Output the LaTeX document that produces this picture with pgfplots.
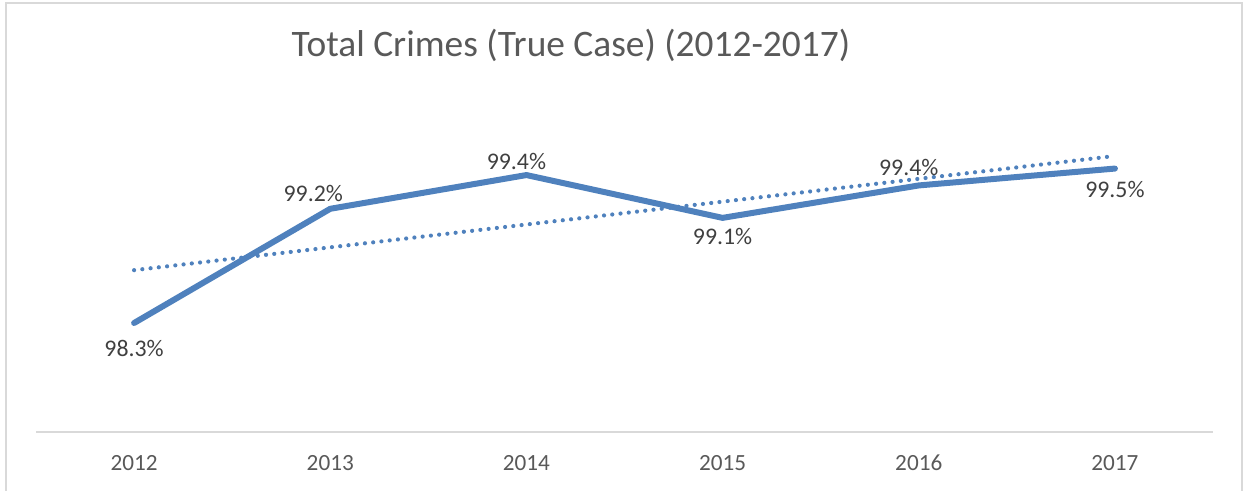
\documentclass[border=0pt]{standalone}
\usepackage{pgfplots}
\pgfplotsset{compat=1.18}
\usepackage{fontspec}
\setmainfont{Carlito}
\definecolor{lineblue}{RGB}{79,129,189}
\definecolor{labelgray}{RGB}{64,64,64}
\definecolor{titlegray}{RGB}{89,89,89}
\definecolor{axisgray}{RGB}{217,217,217}
\pgfplotsset{
  lbl/.style 2 args={draw=none, mark=none, nodes near coords, point meta=explicit symbolic,
    every node near coord/.style={anchor=center, xshift=#1, yshift=#2,
      font=\fontsize{11.9}{13}\selectfont, text=labelgray}},
}
\begin{document}
\begin{tikzpicture}
\begin{axis}[
  scale only axis, width=588.5pt, height=170pt,
  xmin=-0.5, xmax=5.5, ymin=97.46, ymax=100.08,
  axis x line*=bottom, axis y line=none,
  x axis line style={draw=axisgray, line width=0.6pt},
  xtick={0,1,2,3,4,5}, xticklabels={2012,2013,2014,2015,2016,2017},
  ytick=\empty,
  major tick length=0pt,
  xticklabel style={font=\fontsize{11.6}{13}\selectfont, text=titlegray, yshift=-8pt},
  clip=false,
]
\addplot[lineblue, line width=3pt, line join=round, line cap=round]
  coordinates {(0,98.30) (1,99.18) (2,99.44) (3,99.11) (4,99.36) (5,99.49)};
\addplot[lineblue, line width=2.1pt, line cap=round, dash pattern=on 0pt off 4.15pt]
  coordinates {(0,98.707) (5,99.587)};
\addplot[lbl={0pt}{-12.5pt}] coordinates {(0,98.30) [98.3\%]};
\addplot[lbl={-8.5pt}{7.5pt}] coordinates {(1,99.18) [99.2\%]};
\addplot[lbl={-5pt}{7pt}] coordinates {(2,99.44) [99.4\%]};
\addplot[lbl={0pt}{-9.5pt}] coordinates {(3,99.11) [99.1\%]};
\addplot[lbl={-5pt}{9pt}] coordinates {(4,99.36) [99.4\%]};
\addplot[lbl={0pt}{-10.5pt}] coordinates {(5,99.49) [99.5\%]};
\node[font=\fontsize{18.7}{22}\selectfont, text=titlegray] at (rel axis cs:0.4545,1.138) {Total Crimes (True Case) (2012-2017)};
\draw[axisgray, line width=0.6pt] (rel axis cs:-0.02549,-0.4) rectangle (rel axis cs:1.02464,1.26176);
\coordinate (bl) at (rel axis cs:-0.03059,-0.17353);
\coordinate (tr) at (rel axis cs:1.02634,1.27059);
\end{axis}
\pgfresetboundingbox
\path[use as bounding box] (bl) rectangle (tr);
\end{tikzpicture}
\end{document}
